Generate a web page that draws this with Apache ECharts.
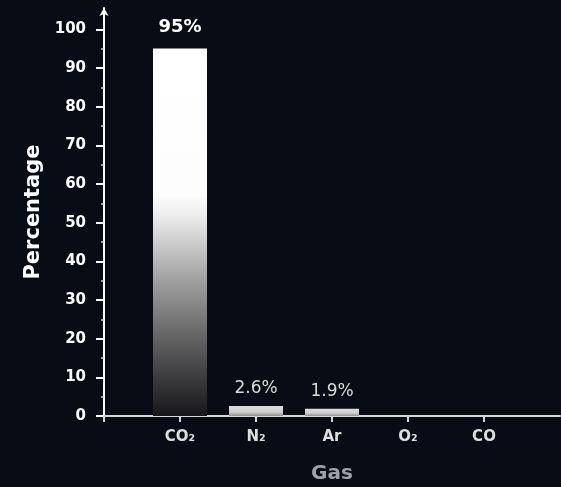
<!DOCTYPE html>
<html>
<head>
<meta charset="utf-8">
<script src="https://cdn.jsdelivr.net/npm/echarts@6/dist/echarts.min.js"></script>
<style>
html,body{margin:0;padding:0;background:#0a0c15;}
#chart{width:561px;height:487px;}
</style>
</head>
<body>
<div id="chart"></div>
<script>
// Data
const categories = ['CO₂', 'N₂', 'Ar', 'O₂', 'CO'];
const percentages = [95, 2.6, 1.9, 0, 0];
const yTickValues = [0, 10, 20, 30, 40, 50, 60, 70, 80, 90, 100];
const yMinorTickValues = [5, 15, 25, 35, 45, 55, 65, 75, 85, 95];

const FONT = 'DejaVu Sans';
// pad with empty slots so the axis runs half a slot beyond each side
const axisCats = [''].concat(categories, ['']);
const seriesData = [null].concat(percentages.map((v, i) => {
  const item = { value: v };
  if (i === 0) {
    item.itemStyle = {
      color: new echarts.graphic.LinearGradient(0, 0, 0, 1, [
        { offset: 0, color: '#ffffff' },
        { offset: 0.40, color: '#fdfdfd' },
        { offset: 0.45, color: '#eeeeee' },
        { offset: 0.63, color: '#a0a0a0' },
        { offset: 0.77, color: '#6a6a6b' },
        { offset: 0.90, color: '#3a3a3c' },
        { offset: 1, color: '#18181c' }
      ])
    };
    item.label = { show: true, fontWeight: 'bold', color: '#ffffff', fontSize: 18, distance: 12 };
  } else if (v > 0) {
    item.itemStyle = {
      color: new echarts.graphic.LinearGradient(0, 0, 0, 1, [
        { offset: 0, color: '#dcdcdc' },
        { offset: 0.6, color: '#cfcfcf' },
        { offset: 1, color: '#8f8f8f' }
      ])
    };
    item.label = { show: true, fontWeight: 'normal', color: '#dadada', fontSize: 17, distance: 9 };
  } else {
    item.label = { show: false };
  }
  return item;
}), [null]);

const chart = echarts.init(document.getElementById('chart'), null, { renderer: 'canvas' });
chart.setOption({
  backgroundColor: '#0a0c15',
  animation: false,
  textStyle: { fontFamily: FONT },
  grid: { left: 104, right: 1, top: 8, bottom: 71, containLabel: false, outerBoundsMode: 'none' },
  xAxis: {
    type: 'category',
    data: axisCats,
    boundaryGap: false,
    name: 'Gas',
    nameLocation: 'middle',
    nameGap: 48,
    nameTextStyle: { color: '#9fa1a7', fontSize: 20, fontWeight: 'bold', fontFamily: FONT },
    axisLine: { show: true, lineStyle: { color: '#d6d6d6', width: 2 } },
    axisTick: { show: true, length: 6, interval: (idx) => idx < axisCats.length - 1, lineStyle: { color: '#d6d6d6', width: 2 } },
    axisLabel: { color: '#dedede', fontSize: 15, fontWeight: 'bold', margin: 14, fontFamily: FONT },
    splitLine: { show: false }
  },
  yAxis: [{
    type: 'value',
    min: 0,
    max: 105.5,
    interval: 10,
    name: 'Percentage',
    nameLocation: 'middle',
    nameGap: 60,
    nameRotate: 90,
    nameTextStyle: { color: '#ffffff', fontSize: 21, fontWeight: 'bold', fontFamily: FONT },
    axisLine: { show: true, symbol: ['none', 'arrow'], symbolSize: [7, 8], lineStyle: { color: '#ffffff', width: 2 } },
    axisTick: { show: true, length: 8, customValues: yTickValues, lineStyle: { color: '#ffffff', width: 2 } },
    axisLabel: { color: '#ffffff', fontSize: 15, fontWeight: 'bold', margin: 18, customValues: yTickValues, fontFamily: FONT },
    splitLine: { show: false }
  }, {
    type: 'value',
    min: 0,
    max: 105.5,
    interval: 10,
    position: 'left',
    axisLine: { show: false },
    axisTick: { show: true, length: 3, customValues: yMinorTickValues, lineStyle: { color: '#d0d0d0', width: 1.5 } },
    axisLabel: { show: false },
    splitLine: { show: false }
  }],
  series: [{
    type: 'bar',
    yAxisIndex: 0,
    data: seriesData,
    barWidth: 54,
    label: { show: true, position: 'top', formatter: p => p.value + '%', fontFamily: FONT }
  }]
});
</script>
</body>
</html>
